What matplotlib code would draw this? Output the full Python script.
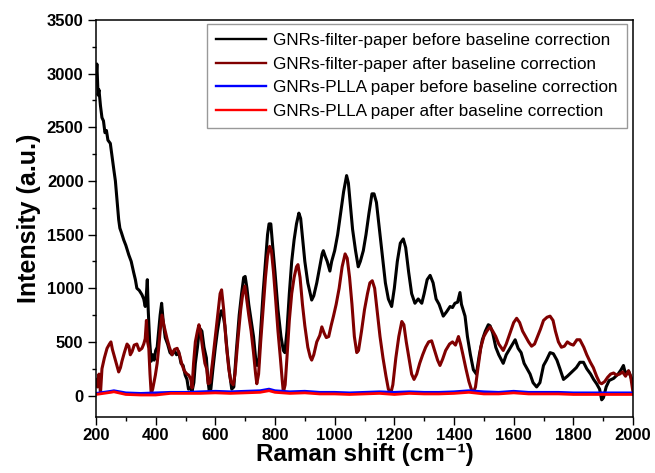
import numpy as np
from matplotlib import pyplot as plt
from matplotlib.ticker import MultipleLocator

plt.rcParams['font.family'] = ['Liberation Sans', 'DejaVu Sans']

# GNRs-filter-paper before baseline correction
x_fb = [200, 203, 207, 210, 215, 220, 225, 230, 235, 240, 248, 255, 260, 265, 270, 276, 280, 285, 293, 300,
        310, 318, 326, 332, 337, 345, 354, 360, 365, 369, 372, 375, 380, 385, 390, 395, 400, 405, 410, 415,
        420, 425, 432, 440, 448, 455, 462, 470, 477, 485, 492, 499, 505, 510, 516, 522, 528, 533, 540, 545,
        550, 555, 562, 570, 575, 580, 585, 592, 600, 607, 614, 620, 626, 632, 640, 648, 655, 662, 670, 680,
        688, 695, 700, 706, 712, 720, 728, 735, 740, 745, 752, 760, 768, 775, 780, 786, 792, 800, 810, 820,
        828, 833, 840, 848, 856, 864, 872, 880, 886, 893, 900, 910, 918, 923, 930, 940, 950, 958, 962, 968,
        975, 984, 990, 1000, 1010, 1020, 1030, 1040, 1046, 1052, 1060, 1070, 1079, 1086, 1096, 1105, 1115, 1125, 1132, 1140,
        1150, 1160, 1170, 1180, 1191, 1200, 1210, 1220, 1230, 1238, 1248, 1258, 1269, 1280, 1292, 1300, 1310, 1320, 1330, 1340,
        1350, 1364, 1375, 1387, 1395, 1403, 1412, 1420, 1425, 1437, 1445, 1455, 1465, 1475, 1485, 1495, 1505, 1515, 1521, 1530,
        1540, 1550, 1565, 1575, 1590, 1605, 1615, 1625, 1635, 1645, 1655, 1665, 1677, 1688, 1700, 1710, 1722, 1733, 1745, 1755,
        1767, 1780, 1795, 1810, 1822, 1834, 1845, 1858, 1868, 1878, 1888, 1895, 1901, 1910, 1920, 1935, 1950, 1960, 1968, 1975,
        1985, 1996, 2000]
y_fb = [2950, 3090, 2800, 2850, 2700, 2590, 2560, 2450, 2470, 2380, 2350, 2200, 2100, 2000, 1840, 1640, 1560, 1520, 1450, 1400,
        1310, 1250, 1150, 1080, 1000, 980, 940, 900, 830, 950, 1080, 800, 500, 320, 380, 330, 420, 450, 600, 750,
        860, 700, 540, 480, 400, 380, 420, 380, 410, 300, 280, 190, 150, 60, 70, 40, 120, 300, 450, 580,
        620, 600, 450, 350, 150, 30, 60, 250, 450, 600, 720, 790, 750, 650, 400, 200, 60, 80, 400, 750,
        950, 1100, 1110, 1000, 850, 700, 550, 350, 280, 300, 600, 950, 1250, 1500, 1600, 1600, 1400, 1150, 800, 550,
        420, 400, 600, 950, 1250, 1450, 1600, 1700, 1650, 1450, 1250, 1050, 950, 890, 930, 1050, 1200, 1320, 1350, 1300,
        1250, 1160, 1250, 1350, 1500, 1700, 1900, 2050, 1980, 1800, 1550, 1350, 1200, 1250, 1350, 1500, 1700, 1880, 1880, 1800,
        1550, 1300, 1050, 900, 830, 1000, 1250, 1420, 1460, 1380, 1150, 950, 860, 900, 860, 950, 1080, 1120, 1050, 900,
        850, 740, 780, 830, 820, 860, 870, 960, 850, 740, 550, 380, 240, 200, 380, 520, 600, 660, 650, 580,
        450, 380, 300, 380, 450, 520, 440, 400, 300, 250, 200, 120, 80, 120, 280, 330, 400, 390, 330, 250,
        150, 180, 220, 260, 310, 310, 250, 200, 150, 110, 60, -40, -20, 80, 140, 160, 200, 240, 280, 200,
        230, 150, 100]

# GNRs-filter-paper after baseline correction
x_fa = [200, 205, 210, 215, 220, 228, 237, 245, 250, 255, 260, 268, 276, 282, 287, 295, 304, 310, 315, 321,
        328, 337, 345, 354, 360, 365, 369, 373, 377, 381, 385, 390, 399, 405, 410, 415, 421, 428, 438, 446,
        455, 463, 472, 480, 488, 496, 505, 511, 518, 522, 527, 533, 540, 545, 550, 557, 565, 571, 576, 582,
        590, 600, 610, 616, 621, 628, 636, 645, 652, 660, 666, 675, 685, 692, 699, 705, 712, 720, 728, 735,
        739, 745, 752, 760, 768, 775, 782, 788, 795, 802, 810, 818, 824, 828, 834, 840, 848, 856, 864, 872,
        877, 884, 892, 900, 910, 918, 923, 930, 940, 950, 957, 965, 972, 980, 988, 996, 1005, 1015, 1025, 1035,
        1042, 1050, 1058, 1066, 1074, 1080, 1090, 1100, 1110, 1118, 1126, 1134, 1142, 1152, 1162, 1172, 1180, 1188, 1195, 1205,
        1215, 1225, 1232, 1240, 1250, 1258, 1266, 1275, 1285, 1295, 1305, 1315, 1325, 1335, 1345, 1353, 1362, 1372, 1385, 1395,
        1405, 1415, 1422, 1430, 1440, 1450, 1458, 1465, 1472, 1480, 1490, 1500, 1510, 1521, 1530, 1540, 1550, 1565, 1575, 1590,
        1600, 1610, 1620, 1630, 1640, 1650, 1660, 1670, 1680, 1690, 1700, 1712, 1722, 1732, 1740, 1750, 1760, 1770, 1780, 1790,
        1800, 1812, 1822, 1835, 1845, 1857, 1867, 1878, 1888, 1895, 1905, 1915, 1925, 1935, 1945, 1955, 1965, 1975, 1985, 1992,
        2000]
y_fa = [150, 80, 200, 20, 250, 350, 440, 480, 500, 430, 380, 300, 220, 260, 320, 400, 480, 460, 380, 410,
        470, 480, 420, 440, 480, 530, 700, 500, 440, 200, 20, 60, 190, 300, 440, 600, 750, 650, 530, 450,
        380, 430, 440, 380, 290, 230, 200, 190, 150, 70, 300, 500, 600, 660, 600, 450, 300, 250, 110, 120,
        300, 550, 800, 950, 985, 800, 500, 250, 130, 100, 200, 500, 800, 950, 1020, 900, 750, 600, 400, 200,
        110, 200, 500, 800, 1100, 1300, 1390, 1350, 1150, 900, 600, 350, 150, 30, 100, 350, 700, 950, 1100, 1200,
        1220, 1100, 850, 650, 450, 360, 330, 380, 500, 560, 640, 580, 540, 550, 650, 740, 850, 1000, 1200, 1320,
        1280, 1100, 850, 550, 400, 420, 600, 800, 950, 1050, 1070, 1000, 800, 550, 350, 180, 60, 20, 100, 350,
        550, 690, 660, 500, 330, 200, 150, 200, 300, 380, 450, 500, 510, 420, 330, 280, 340, 420, 480, 500,
        470, 550, 480, 380, 250, 130, 60, 30, 80, 250, 450, 550, 600, 640, 600, 550, 480, 420, 480, 600,
        680, 720, 680, 600, 550, 500, 460, 480, 550, 620, 700, 730, 740, 700, 600, 500, 450, 460, 500, 480,
        470, 520, 520, 450, 380, 310, 260, 180, 120, 110, 130, 170, 200, 210, 190, 200, 220, 180, 230, 180,
        30]

# GNRs-PLLA paper before / after baseline correction
x_p = [200, 250, 260, 300, 350, 400, 450, 500, 550, 600, 650, 700, 750, 780, 800, 850, 900, 950, 1000, 1050,
       1100, 1150, 1200, 1250, 1300, 1350, 1400, 1450, 1500, 1550, 1600, 1650, 1700, 1750, 1800, 1850, 1900, 1950, 2000]
y_pb = [20, 40, 45, 25, 20, 25, 30, 30, 35, 40, 35, 40, 45, 60, 45, 35, 40, 30, 30, 25,
        30, 35, 30, 35, 30, 30, 35, 45, 35, 30, 40, 30, 30, 30, 25, 25, 25, 25, 25]
y_pa = [10, 30, 35, 10, 5, 5, 20, 20, 20, 25, 20, 25, 30, 45, 30, 20, 25, 15, 15, 10,
        15, 20, 10, 20, 15, 15, 20, 30, 15, 15, 25, 15, 15, 15, 10, 10, 10, 10, 10]

labels = ['GNRs-filter-paper before baseline correction',
          'GNRs-filter-paper after baseline correction',
          'GNRs-PLLA paper before baseline correction',
          'GNRs-PLLA paper after baseline correction']

fig = plt.figure(figsize=(6.55, 4.73), dpi=100)
ax = fig.add_axes([96/655, 1-417/473, 537/655, 397/473])

ax.plot(x_fb, y_fb, color='black', lw=2.2, label=labels[0])
ax.plot(x_fa, y_fa, color='#800000', lw=2.2, label=labels[1])
ax.plot(x_p, y_pb, color='#0000FF', lw=2.0, label=labels[2])
ax.plot(x_p, y_pa, color='#FF0000', lw=2.0, label=labels[3])

ax.set_xlim(200, 2000)
ax.set_ylim(-200, 3500)
ax.xaxis.set_major_locator(MultipleLocator(200))
ax.xaxis.set_minor_locator(MultipleLocator(100))
ax.yaxis.set_major_locator(MultipleLocator(500))
ax.yaxis.set_minor_locator(MultipleLocator(250))
ax.tick_params(which='major', direction='out', length=6, width=1, labelsize=12, pad=3)
ax.tick_params(axis='x', which='major', pad=2)
ax.tick_params(which='minor', direction='out', length=3, width=1)
for lab in ax.get_xticklabels() + ax.get_yticklabels():
    lab.set_fontweight('bold')
for s in ax.spines.values():
    s.set_linewidth(1.1)

ax.set_xlabel('Raman shift (cm\u207b\u00b9)', fontsize=17.5, fontweight='bold', labelpad=0)
ax.set_ylabel('Intensity (a.u.)', fontsize=18, fontweight='bold', labelpad=4)

leg = ax.legend(loc='upper left', bbox_to_anchor=(207/655, 1-24/473), bbox_transform=fig.transFigure,
                fontsize=12.3, frameon=True, fancybox=False, handlelength=2.9, handletextpad=0.4,
                labelspacing=0.5, borderpad=0.55, borderaxespad=0)
leg.get_frame().set_edgecolor('#808080')
leg.get_frame().set_linewidth(1)
for h in leg.get_lines():
    h.set_linewidth(1.7)

fig.savefig('out.png', dpi=100)
